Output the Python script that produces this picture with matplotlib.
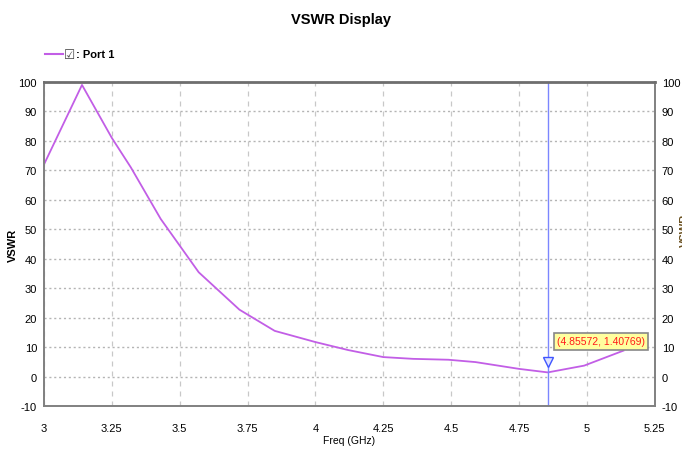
import matplotlib.pyplot as plt

# Dados (VSWR da porta 1)
freq = [3.0, 3.14, 3.25, 3.32, 3.43, 3.57, 3.72, 3.85, 4.0, 4.12, 4.25, 4.36,
        4.49, 4.59, 4.75, 4.856, 4.99, 5.135]
vswr = [72, 99, 81, 71, 53.5, 35.4, 22.7, 15.5, 11.7, 9.0, 6.6, 6.0,
        5.7, 4.9, 2.6, 1.4, 3.7, 8.8]
x_ticks = [3, 3.25, 3.5, 3.75, 4, 4.25, 4.5, 4.75, 5, 5.25]
x_labels = ["3", "3.25", "3.5", "3.75", "4", "4.25", "4.5", "4.75", "5", "5.25"]
y_ticks = [-10, 0, 10, 20, 30, 40, 50, 60, 70, 80, 90, 100]
marker_x = 4.85572
marker_y = 1.40769

plt.rcParams['font.family'] = ['Liberation Sans Narrow', 'Liberation Sans', 'DejaVu Sans']
plt.rcParams['axes.unicode_minus'] = False

fig = plt.figure(figsize=(6.82, 4.52), dpi=100)
ax = fig.add_axes([0.0645, 0.0996, 0.8955, 0.7168])

ax.plot(freq, vswr, color='#c25ee6', linewidth=1.3)

# marcador
ax.axvline(marker_x, color='#7b86ff', linewidth=1.0)
ax.plot([marker_x], [marker_y + 3.5], marker='v', markersize=7,
        markerfacecolor='#dfe3ff', markeredgecolor='#3f55ff', zorder=5)
ax.text(marker_x + 0.035, marker_y + 10.5, f"({marker_x:.5f}, {marker_y:.5f})",
        color='#ff1a1a', fontsize=7.5, va='center', ha='left',
        bbox=dict(boxstyle='square,pad=0.3', facecolor='#ffff9e', edgecolor='#888888', linewidth=1.2))

ax.set_xlim(3, 5.25)
ax.set_ylim(-10, 100)
ax.set_xticks(x_ticks)
ax.set_xticklabels(x_labels)
ax.set_yticks(y_ticks)
ax.tick_params(length=0, labelsize=8, pad=5)
ax.tick_params(axis='x', pad=12)
ax.tick_params(axis='y', right=True, labelright=True)

ax.xaxis.grid(True, linestyle=(0, (4, 4)), color='#c8c8c8', linewidth=0.9)
ax.yaxis.grid(True, linestyle=(0, (1.5, 2)), color='#b4b4b4', linewidth=1.0)

for s in ax.spines.values():
    s.set_color('#808080')
    s.set_linewidth(1.4)
ax.spines['top'].set_color('#6e6e6e')
ax.spines['top'].set_linewidth(2)

ax.set_xlabel("Freq (GHz)", fontsize=7.5, labelpad=2)
ax.set_ylabel("VSWR", fontsize=8, fontweight='bold')
ax.yaxis.set_label_coords(-0.042, 0.5)

fig.text(0.5, 0.955, "VSWR Display", ha='center', va='center', fontsize=10.5, fontweight='bold')

# legenda
fig.add_artist(plt.Line2D([0.066, 0.093], [0.878, 0.878], color='#c25ee6', linewidth=1.5))
fig.text(0.094, 0.878, "\u2611", ha='left', va='center', fontsize=9,
         family=['DejaVu Sans'], color='#444444')
fig.text(0.112, 0.878, ": Port 1", ha='left', va='center', fontsize=8, fontweight='bold')

# rótulo direito cortado
fig.text(1.004, 0.49, "VSWR", ha='center', va='center', rotation=90, fontsize=8,
         fontweight='bold', color='#6a5020')

fig.savefig("out.png", dpi=100)
